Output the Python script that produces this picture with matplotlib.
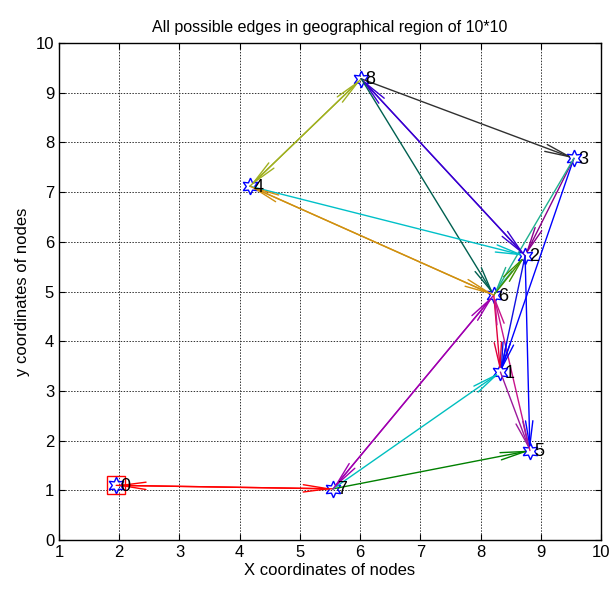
import numpy as np
import matplotlib
matplotlib.use("Agg")
import matplotlib.pyplot as plt

plt.rcParams['font.family'] = ['Liberation Sans', 'DejaVu Sans']

# node coordinates (node id = index)
node_x = [1.95, 8.33, 8.74, 9.55, 4.17, 8.82, 8.22, 5.55, 6.02]
node_y = [1.10, 3.38, 5.72, 7.68, 7.12, 1.80, 4.93, 1.03, 9.28]
node_names = ['0', '1', '2', '3', '4', '5', '6', '7', '8']

# directed edges: start node, end node, colour
edge_from = [0, 7, 7, 7, 7, 6, 6, 5, 1, 2, 2, 3, 3, 3, 8, 8, 4, 8, 2, 8, 4, 6, 4, 6]
edge_to   = [7, 0, 5, 1, 6, 7, 1, 6, 5, 5, 1, 1, 2, 6, 3, 4, 8, 2, 8, 6, 2, 2, 6, 4]
edge_col  = ['#ff0000', '#ff0000', '#008000', '#00bfbf', '#a000b0', '#a000b0',
             '#e0003c', '#c8148c', '#9b1a9b', '#0000ff', '#1010e0', '#0000ff',
             '#8b008b', '#20b090', '#303030', '#a0b020', '#a0b020', '#3a00d0',
             '#3a00d0', '#006050', '#00c0c8', '#409000', '#d09010', '#d09010']

fig = plt.figure(figsize=(6.12, 5.90), dpi=100)
ax = fig.add_axes([0.0964, 0.0847, 0.8856, 0.8423])

for a, b, c in zip(edge_from, edge_to, edge_col):
    ax.annotate('', xy=(node_x[b], node_y[b]), xytext=(node_x[a], node_y[a]),
                arrowprops=dict(arrowstyle='->,head_length=1.5,head_width=0.22',
                                color=c, lw=1.0, shrinkA=0, shrinkB=0,
                                mutation_scale=12))

# hexagram markers and labels
ax.plot(node_x, node_y, linestyle='none', marker=(6, 1, 0), markersize=12,
        markerfacecolor='none', markeredgecolor='blue', markeredgewidth=1.0)
ax.plot(node_x[0], node_y[0], linestyle='none', marker='s', markersize=13,
        markerfacecolor='none', markeredgecolor='red', markeredgewidth=1.0)
for x, y, name in zip(node_x, node_y, node_names):
    ax.text(x + 0.07, y - 0.02, name, fontsize=13, va='center', ha='left')

ax.set_xlim(1, 10)
ax.set_ylim(0, 10)
ax.set_xticks(np.arange(1, 11))
ax.set_yticks(np.arange(0, 11))
ax.tick_params(direction='in', labelsize=12, length=4, top=True, right=True)
ax.grid(True, color='#333333', linestyle=(0, (1.5, 1.5)), linewidth=0.7)
for sp in ax.spines.values():
    sp.set_linewidth(1.0)

ax.set_title('All possible edges in geographical region of 10*10', fontsize=11.5, pad=8)
ax.set_xlabel('X coordinates of nodes', fontsize=12, labelpad=2)
ax.set_ylabel('y coordinates of nodes', fontsize=12, labelpad=4)

fig.savefig('out.png', dpi=100)
